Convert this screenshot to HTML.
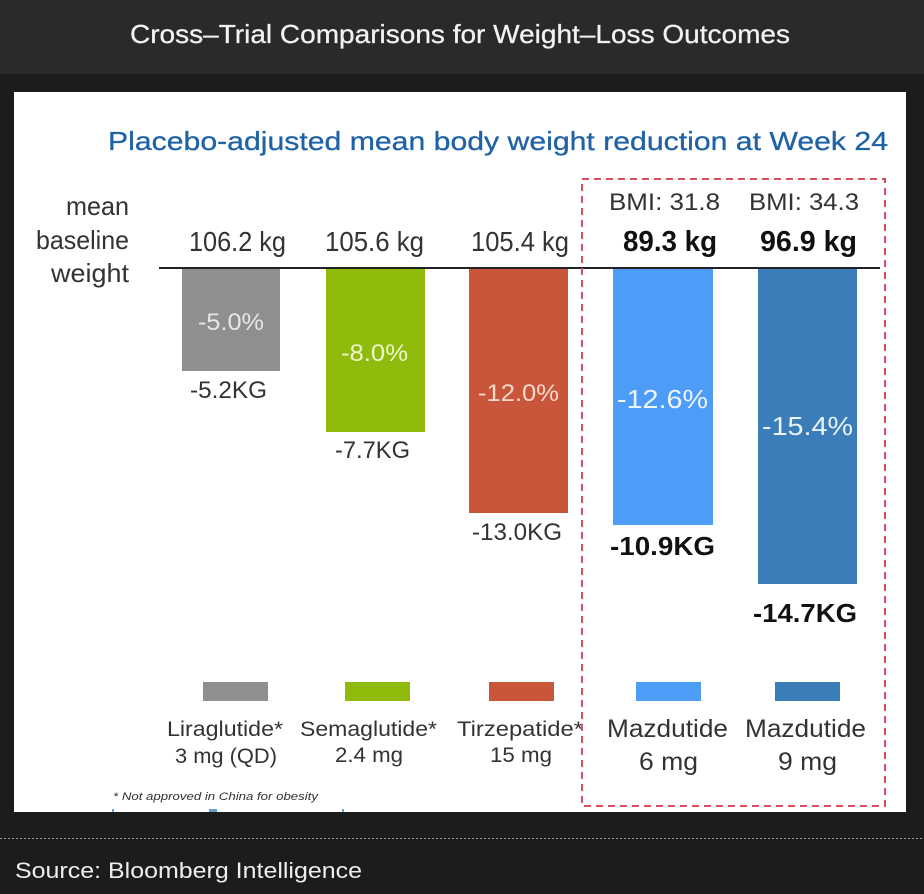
<!DOCTYPE html>
<html>
<head>
<meta charset="utf-8">
<style>
  html,body{margin:0;padding:0;background:#1c1c1c;}
  svg{display:block;}
  text{font-family:"Liberation Sans",sans-serif;}
</style>
</head>
<body>
<svg width="924" height="894" viewBox="0 0 924 894" xmlns="http://www.w3.org/2000/svg">
  <!-- backgrounds -->
  <rect x="0" y="0" width="924" height="894" fill="#1c1c1c"/>
  <rect x="0" y="0" width="924" height="74" fill="#2a2a2a"/>
  <text x="130" y="43" font-size="26" fill="#f2f2f2" stroke="#f2f2f2" stroke-width="0.3" textLength="660" lengthAdjust="spacingAndGlyphs">Cross–Trial Comparisons for Weight–Loss Outcomes</text>

  <!-- white image -->
  <rect x="14" y="92" width="892" height="720" fill="#ffffff"/>

  <!-- chart title -->
  <text x="108" y="150" font-size="26" fill="#1f63a6" stroke="#1f63a6" stroke-width="0.3" textLength="780" lengthAdjust="spacingAndGlyphs">Placebo-adjusted mean body weight reduction at Week 24</text>

  <!-- mean baseline weight -->
  <text x="66" y="215" font-size="26" fill="#333" textLength="63" lengthAdjust="spacingAndGlyphs">mean</text>
  <text x="36" y="249" font-size="26" fill="#333" textLength="93" lengthAdjust="spacingAndGlyphs">baseline</text>
  <text x="51" y="282" font-size="26" fill="#333" textLength="78" lengthAdjust="spacingAndGlyphs">weight</text>

  <!-- baseline weights -->
  <text x="189" y="251" font-size="28" fill="#333" textLength="97" lengthAdjust="spacingAndGlyphs">106.2 kg</text>
  <text x="325" y="251" font-size="28" fill="#333" textLength="99" lengthAdjust="spacingAndGlyphs">105.6 kg</text>
  <text x="471" y="251" font-size="28" fill="#333" textLength="98" lengthAdjust="spacingAndGlyphs">105.4 kg</text>

  <text x="609" y="210" font-size="24" fill="#333" textLength="111" lengthAdjust="spacingAndGlyphs">BMI: 31.8</text>
  <text x="749" y="210" font-size="24" fill="#333" textLength="110" lengthAdjust="spacingAndGlyphs">BMI: 34.3</text>
  <text x="623" y="251" font-size="29" font-weight="bold" fill="#111" textLength="94" lengthAdjust="spacingAndGlyphs">89.3 kg</text>
  <text x="760" y="251" font-size="29" font-weight="bold" fill="#111" textLength="97" lengthAdjust="spacingAndGlyphs">96.9 kg</text>

  <!-- bars -->
  <rect x="182" y="269" width="98" height="102" fill="#8f8f8f"/>
  <rect x="326" y="269" width="99" height="163" fill="#8fbc0c"/>
  <rect x="469" y="269" width="99" height="244" fill="#c9553a"/>
  <rect x="613" y="269" width="100" height="256" fill="#4d9cf7"/>
  <rect x="758" y="269" width="99" height="315" fill="#3b7db8"/>

  <!-- baseline rule -->
  <rect x="159" y="267" width="721" height="2" fill="#222"/>

  <!-- percentages -->
  <text x="198" y="330" font-size="24" fill="#e6e6e6" textLength="66" lengthAdjust="spacingAndGlyphs">-5.0%</text>
  <text x="341" y="361" font-size="24" fill="#eef4cc" textLength="67" lengthAdjust="spacingAndGlyphs">-8.0%</text>
  <text x="478" y="401" font-size="24" fill="#f7d8cc" textLength="81" lengthAdjust="spacingAndGlyphs">-12.0%</text>
  <text x="617" y="408" font-size="26" fill="#eef5ff" textLength="91" lengthAdjust="spacingAndGlyphs">-12.6%</text>
  <text x="762" y="435" font-size="26" fill="#eaf2fa" textLength="91" lengthAdjust="spacingAndGlyphs">-15.4%</text>

  <!-- kg labels -->
  <text x="190" y="398" font-size="24" fill="#333" textLength="77" lengthAdjust="spacingAndGlyphs">-5.2KG</text>
  <text x="335" y="458" font-size="24" fill="#333" textLength="75" lengthAdjust="spacingAndGlyphs">-7.7KG</text>
  <text x="472" y="540" font-size="24" fill="#333" textLength="90" lengthAdjust="spacingAndGlyphs">-13.0KG</text>
  <text x="610" y="555" font-size="26" font-weight="bold" fill="#111" textLength="105" lengthAdjust="spacingAndGlyphs">-10.9KG</text>
  <text x="753" y="622" font-size="26" font-weight="bold" fill="#111" textLength="104" lengthAdjust="spacingAndGlyphs">-14.7KG</text>

  <!-- legend swatches -->
  <rect x="203" y="682" width="65" height="19" fill="#8f8f8f"/>
  <rect x="345" y="682" width="65" height="19" fill="#8fbc0c"/>
  <rect x="489" y="682" width="65" height="19" fill="#c9553a"/>
  <rect x="636" y="682" width="65" height="19" fill="#4d9cf7"/>
  <rect x="775" y="682" width="65" height="19" fill="#3b7db8"/>

  <!-- legend text -->
  <text x="167" y="736" font-size="21" fill="#333" textLength="116" lengthAdjust="spacingAndGlyphs">Liraglutide*</text>
  <text x="175" y="763" font-size="21" fill="#333" textLength="102" lengthAdjust="spacingAndGlyphs">3 mg (QD)</text>
  <text x="300" y="736" font-size="21" fill="#333" textLength="137" lengthAdjust="spacingAndGlyphs">Semaglutide*</text>
  <text x="335" y="762" font-size="21" fill="#333" textLength="68" lengthAdjust="spacingAndGlyphs">2.4 mg</text>
  <text x="457" y="736" font-size="21" fill="#333" textLength="126" lengthAdjust="spacingAndGlyphs">Tirzepatide*</text>
  <text x="490" y="762" font-size="21" fill="#333" textLength="62" lengthAdjust="spacingAndGlyphs">15 mg</text>
  <text x="607" y="737" font-size="25" fill="#333" textLength="121" lengthAdjust="spacingAndGlyphs">Mazdutide</text>
  <text x="745" y="737" font-size="25" fill="#333" textLength="121" lengthAdjust="spacingAndGlyphs">Mazdutide</text>
  <text x="639" y="770" font-size="25" fill="#333" textLength="59" lengthAdjust="spacingAndGlyphs">6 mg</text>
  <text x="778" y="770" font-size="25" fill="#333" textLength="59" lengthAdjust="spacingAndGlyphs">9 mg</text>

  <!-- footnote -->
  <text x="113" y="800" font-size="11" font-style="italic" fill="#333" textLength="205" lengthAdjust="spacingAndGlyphs">* Not approved in China for obesity</text>
  <rect x="112" y="809" width="2" height="3" fill="#6a9fd0"/>
  <rect x="209" y="809" width="8" height="3" fill="#6a9fd0"/>
  <rect x="342" y="809" width="2" height="3" fill="#6a9fd0"/>

  <!-- dashed box -->
  <rect x="582" y="179" width="303" height="627" fill="none" stroke="#d8505e" stroke-width="2" stroke-dasharray="7 5"/>

  <!-- footer -->
  <line x1="0" y1="838.5" x2="924" y2="838.5" stroke="#9a9a9a" stroke-width="1" stroke-dasharray="2 2"/>
  <text x="15" y="878" font-size="22" fill="#eeeeee" textLength="347" lengthAdjust="spacingAndGlyphs">Source: Bloomberg Intelligence</text>
</svg>
</body>
</html>
